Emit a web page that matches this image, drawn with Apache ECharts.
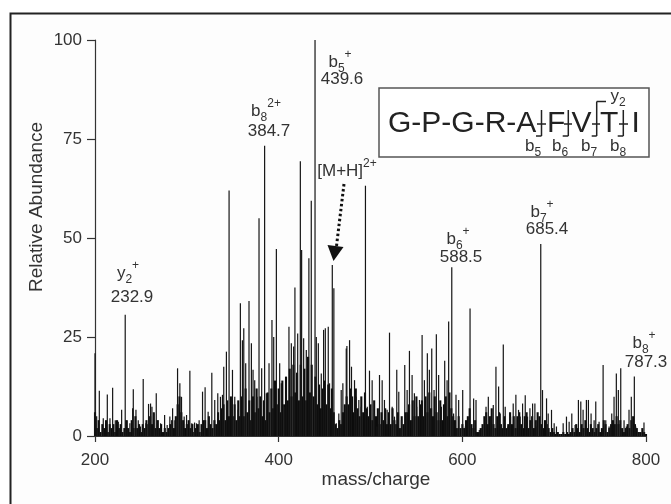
<!DOCTYPE html>
<html>
<head>
<meta charset="utf-8">
<script src="https://cdn.jsdelivr.net/npm/echarts@6/dist/echarts.min.js"></script>
<style>html,body{margin:0;padding:0;background:#fff}#c{width:671px;height:504px}</style>
</head>
<body>
<div id="c"></div>
<script>
// ---- data ----
const xTicks = [200, 400, 600, 800];
const yTicks = [0, 25, 50, 75, 100];
const xTitle = 'mass/charge';
const yTitle = 'Relative Abundance';

// individual peaks: [m/z, relative abundance]
const peaks = [
[200,20.9],[201.8,5],[204.7,11.4],[209,4.5],[213.4,10.5],[216.3,4.5],[219.2,12.2],[222.1,4],[225.4,3.6],[229,6.6],
[232.9,30.6],[235.1,4],[238,3.2],[241,7],[241.7,11.8],[244.6,6.6],[247.1,4],[249.6,2.4],[252.5,14.4],[255.4,3.2],
[258.3,8.1],[260.5,8.2],[262,7.4],[264.1,5.7],[266.7,10.8],[268.8,4],[271.4,3.2],[275.8,5.3],[278.6,2.8],[281.5,4.9],
[284.5,7],[287,4],[289.9,17.1],[292.4,13.3],[294.2,9.9],[297.1,4.9],[299.7,5.3],[303.3,16.5],[305.4,3.2],[308.4,3.4],
[310.5,3.2],[313.4,4],[317.1,11.2],[319.9,12.3],[323.2,6.1],[327.2,16],[330.4,9.1],[333.7,10.8],[336.6,9.9],[338.8,10.4],
[340.2,17.5],[343.1,21.3],[346,62],[349.7,16.7],[352.2,9.9],[355.8,6.6],[358.3,33.5],[360.5,24.2],[362,27.2],[364.1,18.4],
[367.7,34.1],[370.3,23.4],[372.1,16.7],[373.9,14.1],[376.4,9.9],[378.6,55],[381.5,17.1],[384.7,73.3],[386.6,10.8],[389.5,18.4],
[392.7,29.3],[394.6,25],[397.5,47.2],[401.1,18.4],[402.9,13.3],[406.5,7.4],[408.3,13.3],[411.2,27.6],[413.8,23.4],[416.3,22.6],
[417.7,37.5],[420.7,25.9],[423.6,69.4],[425,47],[427.2,24.7],[430.1,21.7],[432.9,44.9],[435.5,59.4],[439.6,100],[441,25],
[443.2,23.4],[446.4,15.8],[448.9,26.8],[450.8,27.2],[454,27.6],[455.4,13.3],[458.4,43.2],[460.1,37.3],[462.7,3.2],[465.5,5.7],
[468.1,11.6],[469.9,13.3],[473.6,22.1],[474.3,22.7],[477.2,24.2],[479.3,17.5],[482.6,14.1],[484.4,9.9],[487.3,9.1],[489.9,7.4],
[494.5,63.2],[496.5,7.4],[498.9,16.5],[501.8,14.1],[504.3,5.7],[506.9,2.4],[509.8,15.4],[512.7,14.1],[515.2,9.1],[518.1,6.6],
[520.7,26.1],[523.6,7.4],[526.1,4.9],[528.6,16.7],[530.8,11.2],[533.7,4],[537.3,17.9],[539.9,11.6],[542.4,21.5],[545.3,15.4],
[547.8,10.8],[550.3,7.4],[553.3,9.1],[556.2,25.5],[558.7,14.1],[561.9,20.9],[564.1,16.7],[566.7,22.1],[569.2,11.6],[571.7,25.7],
[574.2,15.4],[577.2,7.4],[580.8,19],[583.4,14.1],[585.1,28.9],[588.5,42.6],[590.5,5.7],[593.1,10.4],[596,9.1],[600.4,11.6],
[603.3,2.4],[608.4,32.2],[612.3,9.5],[614.9,9.1],[618.5,1.5],[621.4,2],[625.8,7.4],[628.3,9.9],[631.2,4.9],[633.7,7.8],
[636.6,17.5],[639.5,12.5],[641.3,5.7],[644.6,23.1],[646.7,7.4],[649.6,2.4],[652.5,4.9],[655.4,8.2],[658.3,10.4],[661.2,6.6],
[663,4.9],[665.6,8.2],[668.5,10.3],[671,4.9],[673.6,7],[676.5,8.2],[679,8.2],[681.2,2.4],[685.4,48.5],[687.3,11.6],
[691.7,9.5],[693.5,5.7],[697.1,6.6],[700,3.2],[702.5,2.4],[709.8,3.2],[713.4,4.9],[716.3,3.6],[719.2,5.7],[722.8,2.8],
[726.4,9.1],[729,8.7],[731.5,6.6],[735.1,9.1],[737.3,9.1],[740.2,5.7],[743.5,4],[745.3,8.7],[748.9,3.6],[753.3,17.9],
[756.2,4],[759.8,2.4],[762.7,5.7],[765.2,9.9],[767.7,15.8],[769.9,11.6],[772.5,17.1],[776.1,4],[778.6,2.4],[781.5,6.6],
[784,9.9],[787.3,15],[788.8,2.4],[792.4,1],[797.8,3.4]
];

// dense low-level background, sampled every 2 m/z from 200 to 800
const floorStart = 200;
const floorStep = 2;
const floorValues = [
6,2,4,1,3,2,4,1,3,2,
3,1,4,2,3,1,2,4,2,1,
4,2,5,2,3,1,3,2,4,3,
5,3,6,2,4,2,3,1,2,1,
2,3,4,2,5,8,10,6,4,2,
3,4,2,3,1,2,3,1,3,4,
4,2,5,3,2,4,3,6,4,7,
8,4,9,5,10,5,8,4,9,5,
10,5,12,6,9,4,10,6,12,7,
10,5,9,4,11,6,12,7,14,8,
12,6,14,8,15,9,17,10,18,11,
16,9,18,10,17,9,20,11,18,10,
15,8,13,7,12,14,8,13,7,12,
6,3,2,4,3,6,8,10,8,12,
10,6,12,7,5,10,6,11,7,5,
8,4,9,5,7,3,6,4,7,3,
6,3,7,4,3,6,2,5,3,6,
6,8,4,9,5,10,5,8,9,5,
10,6,11,7,5,10,6,4,9,4,
8,10,5,11,7,5,4,2,5,2,
3,2,4,5,7,3,2,4,1,1,
2,3,5,6,3,5,7,3,2,5,
6,3,2,5,2,3,6,3,5,2,
5,6,3,2,5,6,2,4,5,2,
4,6,5,3,2,4,3,2,1,2,
1,0.5,1,0.5,0.5,1,0.5,1,0.5,1,
2,1,3,2,1,3,2,4,2,1,
3,2,1,2,3,1,2,4,3,1,
2,3,4,3,5,3,4,2,1,2,
3,2,4,5,3,2,1,1,2,1,
0.5
];

// ---- chart ----
const floorData = floorValues.map((v, i) => [floorStart + i * floorStep, v]);
const FONT = '"Liberation Sans", Arial, sans-serif';
const TXT = '#333';

const chart = echarts.init(document.getElementById('c'), null, {renderer: 'canvas'});

const rich = {
  b: {fontSize: 17, fontFamily: FONT, color: TXT, lineHeight: 26},
  sub: {fontSize: 12, fontFamily: FONT, color: TXT, verticalAlign: 'bottom', lineHeight: 26},
  sup: {fontSize: 12, fontFamily: FONT, color: TXT, verticalAlign: 'top', lineHeight: 26}
};
function numText(x, y, str) {
  return {type: 'text', x: x, y: y, z: 100,
    style: {text: str, font: '17px ' + FONT, fill: TXT, align: 'center', verticalAlign: 'middle'}};
}
function ionAt(x, y, str) {
  return {type: 'text', x: x, y: y, z: 100,
    style: {text: str, rich: rich, font: '17px ' + FONT, fill: TXT, align: 'center', verticalAlign: 'middle'}};
}
function ln(x1, y1, x2, y2, w, c, dash) {
  return {type: 'line', z: 100, shape: {x1, y1, x2, y2},
    style: {stroke: c || '#222', lineWidth: w || 1.5, lineDash: dash || null}};
}
function seqLetter(x, str) {
  return {type: 'text', x: x, y: 124, z: 100,
    style: {text: str, font: '30px ' + FONT, fill: '#222', align: 'left', verticalAlign: 'middle'}};
}

const graphics = [
  // outer frame
  {type: 'rect', z: -10, shape: {x: 10.5, y: 13.5, width: 700, height: 540},
    style: {fill: '#fdfdfd', stroke: '#222', lineWidth: 2}},
  // axis titles
  {type: 'text', x: 37, y: 207, rotation: Math.PI / 2, z: 100,
    style: {text: yTitle, font: '19px ' + FONT, fill: TXT, align: 'center', verticalAlign: 'middle'}},
  {type: 'text', x: 376, y: 480, z: 100,
    style: {text: xTitle, font: '19px ' + FONT, fill: TXT, align: 'center', verticalAlign: 'middle'}},
  // peak labels
  ionAt(128, 273, '{b|y}{sub|2}{sup|+}'),
  numText(132, 297, '232.9'),
  ionAt(266, 111, '{b|b}{sub|8}{sup|2+}'),
  numText(269, 131, '384.7'),
  ionAt(340, 62, '{b|b}{sub|5}{sup|+}'),
  numText(342, 79, '439.6'),
  ionAt(347, 171, '{b|[M+H]}{sup|2+}'),
  ionAt(458, 239, '{b|b}{sub|6}{sup|+}'),
  numText(461, 257, '588.5'),
  ionAt(542, 212, '{b|b}{sub|7}{sup|+}'),
  numText(547, 229, '685.4'),
  ionAt(644, 343, '{b|b}{sub|8}{sup|+}'),
  numText(646, 362, '787.3'),
  // dotted arrow to [M+H]2+
  ln(344, 184, 336.5, 246, 3, '#111', [2.5, 2.5]),
  {type: 'polygon', z: 100, shape: {points: [[327.5, 245], [343.5, 247], [333.5, 261]]},
    style: {fill: '#111'}},
  // sequence inset
  {type: 'rect', z: 90, shape: {x: 379, y: 88, width: 270, height: 69},
    style: {fill: '#fff', stroke: '#555', lineWidth: 1.5}},
  seqLetter(388, 'G-P-G-R-A'),
  seqLetter(547, 'F'),
  seqLetter(571.5, 'V'),
  seqLetter(600, 'T'),
  seqLetter(631.5, 'I'),
  // cleavage markers
  ln(541.5, 110, 541.5, 136), ln(536, 136, 541.5, 136), ln(537, 124, 546, 124),
  ln(568.3, 110, 568.3, 136), ln(562.7, 136, 568.3, 136), ln(564, 124, 572, 124),
  ln(596.7, 101.5, 596.7, 136), ln(591.7, 136, 596.7, 136), ln(596.7, 101.5, 606, 101.5), ln(592, 124, 600, 124),
  ln(623.3, 110, 623.3, 136), ln(617.7, 136, 623.3, 136), ln(619, 124, 628, 124),
  ionAt(533, 146, '{b|b}{sub|5}'),
  ionAt(560, 146, '{b|b}{sub|6}'),
  ionAt(589, 146, '{b|b}{sub|7}'),
  ionAt(618, 146, '{b|b}{sub|8}'),
  ionAt(618, 96, '{b|y}{sub|2}')
];

function stickRenderer(width, color) {
  return function (params, api) {
    const p0 = api.coord([api.value(0), 0]);
    const p1 = api.coord([api.value(0), api.value(1)]);
    return {type: 'line', shape: {x1: p0[0], y1: p0[1], x2: p1[0], y2: p1[1]},
      style: {stroke: color, lineWidth: width}};
  };
}

chart.setOption({
  animation: false,
  backgroundColor: '#ffffff',
  grid: {left: 95, right: 25, top: 40, bottom: 68, containLabel: false},
  xAxis: {
    type: 'value', min: xTicks[0], max: xTicks[xTicks.length - 1], interval: 200,
    axisLine: {show: true, lineStyle: {color: '#333', width: 1.2}},
    axisTick: {show: true, length: 6, lineStyle: {color: '#333', width: 1.2}},
    axisLabel: {fontSize: 17, fontFamily: FONT, color: TXT, margin: 16},
    splitLine: {show: false}
  },
  yAxis: {
    type: 'value', min: yTicks[0], max: yTicks[yTicks.length - 1], interval: 25,
    axisLine: {show: true, lineStyle: {color: '#333', width: 1.2}},
    axisTick: {show: true, length: 8, lineStyle: {color: '#333', width: 1.2}},
    axisLabel: {fontSize: 17, fontFamily: FONT, color: TXT, margin: 13},
    splitLine: {show: false}
  },
  graphic: graphics,
  series: [
    {
      type: 'custom', data: floorData, silent: true, z: 2,
      renderItem: stickRenderer(2.1, '#0d0d0d'),
      encode: {x: 0, y: 1}
    },
    {
      type: 'custom', data: peaks, silent: true, z: 3,
      renderItem: stickRenderer(1.2, '#151515'),
      encode: {x: 0, y: 1}
    }
  ]
});
</script>
</body>
</html>
